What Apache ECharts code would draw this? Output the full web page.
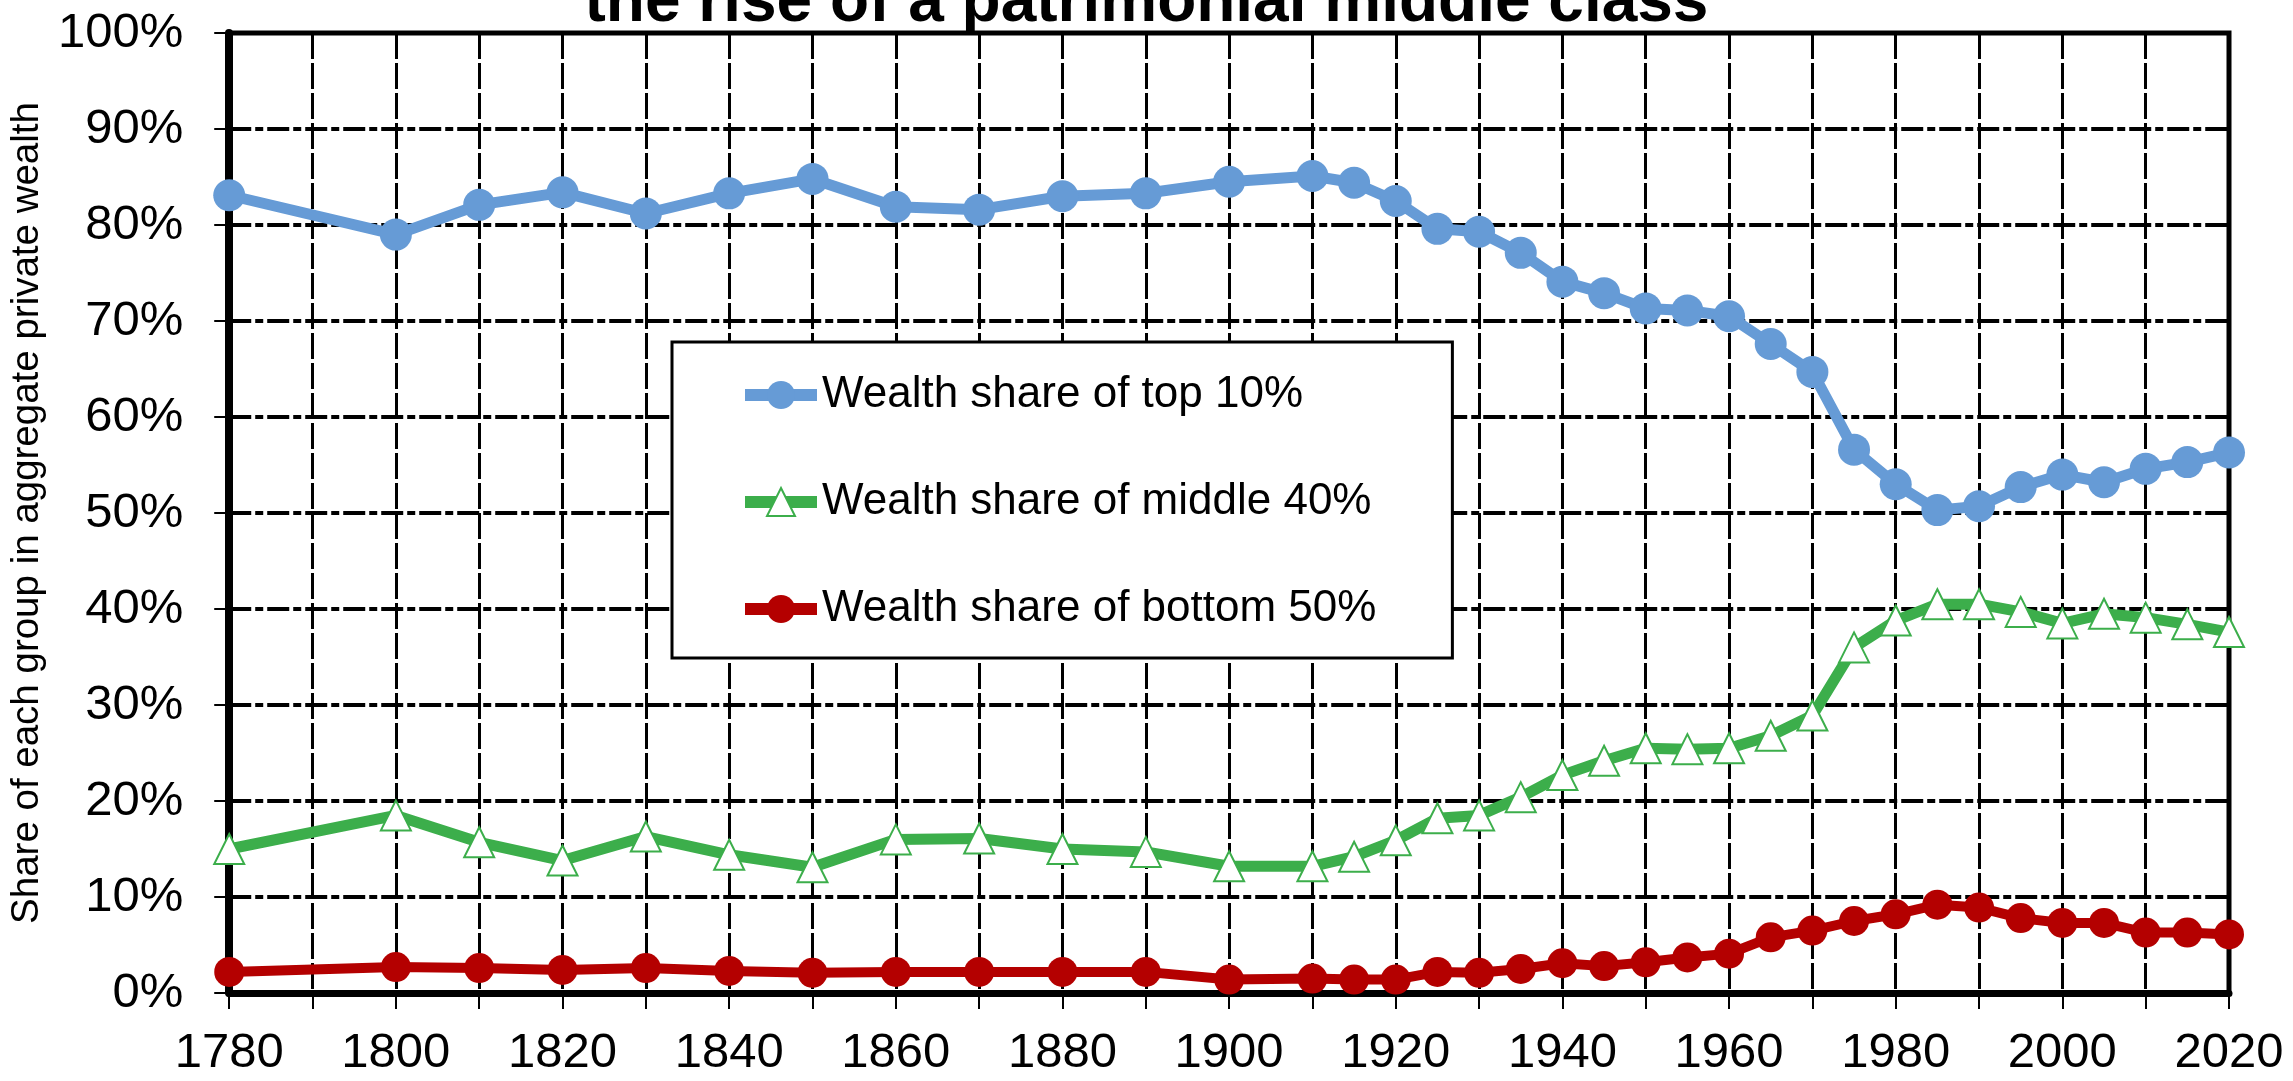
<!DOCTYPE html>
<html>
<head>
<meta charset="utf-8">
<script src="https://cdn.jsdelivr.net/npm/echarts@6/dist/echarts.min.js"></script>
<style>
html,body{margin:0;padding:0;background:#fff;}
#chart{width:2293px;height:1081px;}
</style>
</head>
<body>
<div id="chart"></div>
<script>
const years = [1780,1800,1810,1820,1830,1840,1850,1860,1870,1880,1890,1900,1910,1915,1920,1925,1930,1935,1940,1945,1950,1955,1960,1965,1970,1975,1980,1985,1990,1995,2000,2005,2010,2015,2020];
const top10 = [83.1,79.0,82.1,83.4,81.2,83.3,84.8,81.9,81.6,83.0,83.3,84.5,85.1,84.4,82.5,79.6,79.3,77.1,74.1,72.9,71.3,71.1,70.5,67.6,64.7,56.6,53.0,50.3,50.7,52.7,54.0,53.2,54.6,55.3,56.3];
const middle40 = [15.0,18.5,15.7,13.8,16.3,14.4,13.1,16.0,16.1,15.0,14.7,13.2,13.2,14.2,15.9,18.2,18.5,20.4,22.7,24.2,25.5,25.4,25.5,26.8,28.9,36.0,38.8,40.5,40.5,39.7,38.5,39.5,39.1,38.4,37.6];
const bottom50 = [2.2,2.7,2.6,2.4,2.6,2.3,2.1,2.2,2.2,2.2,2.2,1.4,1.5,1.4,1.4,2.2,2.1,2.5,3.1,2.8,3.2,3.7,4.1,5.8,6.5,7.5,8.2,9.2,8.9,7.8,7.3,7.3,6.3,6.3,6.1];
const seriesNames = ['Wealth share of top 10%','Wealth share of middle 40%','Wealth share of bottom 50%'];
const titleText = 'the rise of a patrimonial middle class';
const yAxisName = 'Share of each group in aggregate private wealth';

const FONT = '"Liberation Sans", Arial, sans-serif';
const pair = arr => years.map((y,i)=>[y,arr[i]]);

const chart = echarts.init(document.getElementById('chart'));
chart.setOption({
  animation:false,
  backgroundColor:'#fff',
  title:{
    text:titleText, left:'center', top:-34,
    textStyle:{fontFamily:FONT,fontSize:64,fontWeight:'bold',color:'#000'}
  },
  grid:{left:219,right:64,top:33,bottom:88,show:true,borderColor:'#000',borderWidth:5,backgroundColor:'transparent'},
  legend:{
    orient:'vertical', left:672, top:342,
    padding:[31,76,27,67],
    backgroundColor:'#fff', borderColor:'#000', borderWidth:3,
    itemWidth:72, itemHeight:35, itemGap:63,
    lineStyle:{width:12},
    textStyle:{fontFamily:FONT,fontSize:44,color:'#000',lineHeight:44},
    data:seriesNames
  },
  xAxis:{
    type:'value', min:1780, max:2020, interval:10,
    axisLine:{show:true,lineStyle:{color:'#000',width:7}},
    axisTick:{show:true,length:16,lineStyle:{color:'#000',width:2}},
    axisLabel:{margin:36,fontFamily:FONT,fontSize:49,color:'#000',
      formatter:v=> (v%20===0 ? String(v) : '')},
    splitLine:{show:true,lineStyle:{color:'#000',width:3,type:[26,4]}}
  },
  yAxis:{
    type:'value', min:0, max:100, interval:10,
    name:yAxisName, nameLocation:'middle', nameGap:154,
    nameTextStyle:{fontFamily:FONT,fontSize:38.5,color:'#000'},
    axisLine:{show:true,lineStyle:{color:'#000',width:8}},
    axisTick:{show:true,length:15,lineStyle:{color:'#000',width:2}},
    axisLabel:{margin:46,fontFamily:FONT,fontSize:49,color:'#000',formatter:'{value}%'},
    splitLine:{show:true,lineStyle:{color:'#000',width:4,type:[22,4,8,4]}}
  },
  series:[
    {name:seriesNames[0],type:'line',data:pair(top10),symbol:'circle',symbolSize:32,
     lineStyle:{color:'#669bd6',width:11},itemStyle:{color:'#669bd6'}},
    {name:seriesNames[1],type:'line',data:pair(middle40),symbol:'triangle',symbolSize:30,
     lineStyle:{color:'#3cae4b',width:11},itemStyle:{color:'#fff',borderColor:'#3cae4b',borderWidth:2}},
    {name:seriesNames[2],type:'line',data:pair(bottom50),symbol:'circle',symbolSize:30,
     lineStyle:{color:'#b40000',width:10},itemStyle:{color:'#b40000'}}
  ]
});
</script>
</body>
</html>
